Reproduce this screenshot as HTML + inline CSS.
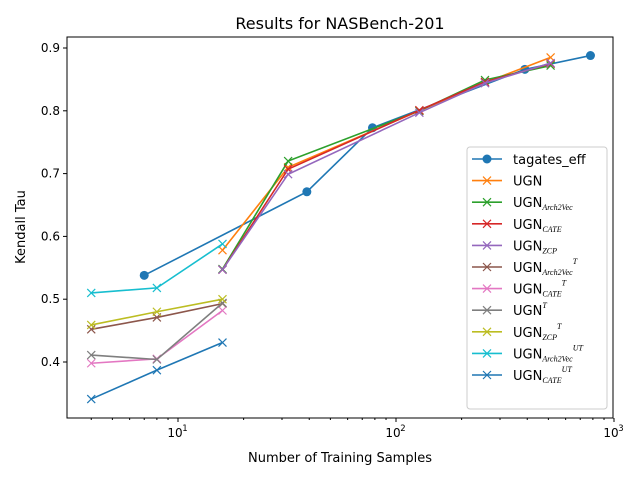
<!DOCTYPE html>
<html><head><meta charset="utf-8"><style>
body{margin:0;background:#fff;}
svg text{font-family:"DejaVu Sans","Liberation Sans",sans-serif;fill:#000;}
</style></head><body>
<svg id="chart" width="640" height="480" xmlns="http://www.w3.org/2000/svg">
<rect width="640" height="480" fill="#fff"/>
<text x="340" y="29" font-size="16" text-anchor="middle">Results for NASBench-201</text>
<g id="plot"></g>
<g id="axes"></g>
<rect x="67" y="37" width="546" height="381" fill="none" stroke="#000" stroke-width="1"/>
<text x="340" y="462" font-size="13" text-anchor="middle">Number of Training Samples</text>
<text transform="translate(25,227) rotate(-90)" font-size="13" text-anchor="middle">Kendall Tau</text>
<g id="legend"></g>
</svg>
<script>
const seriesNames=["tagates_eff","UGN","UGN_Arch2Vec","UGN_CATE","UGN_ZCP","UGN_Arch2Vec^T","UGN_CATE^T","UGN^T","UGN_ZCP^T","UGN_Arch2Vec^UT","UGN_CATE^UT"];
const xTagates=[7,39,78,390,780];
const yTagates=[0.538,0.671,0.773,0.866,0.888];
const xFull=[16,32,128,256,512];
const yUGN=[0.578,0.710,0.800,0.845,0.885];
const yArch2Vec=[0.548,0.720,0.800,0.849,0.872];
const yCATE=[0.547,0.707,0.801,0.846,0.875];
const yZCP=[0.547,0.699,0.797,0.844,0.876];
const xSmall=[4,8,16];
const yArch2VecT=[0.452,0.471,0.493];
const yCATET=[0.398,0.405,0.482];
const yT=[0.411,0.404,0.494];
const yZCPT=[0.459,0.480,0.500];
const yArch2VecUT=[0.510,0.518,0.588];
const yCATEUT=[0.341,0.387,0.431];
const yTicks=[0.4,0.5,0.6,0.7,0.8,0.9];
const xMajor=[10,100,1000];
const xMajorLabels=["10","10","10"];
const colors=["#1f77b4","#ff7f0e","#2ca02c","#d62728","#9467bd","#8c564b","#e377c2","#7f7f7f","#bcbd22","#17becf","#1f77b4"];

const NS="http://www.w3.org/2000/svg";
const L=67,R=613,T=37,B=418;
const xMinLog=Math.log10(3.1),xMaxLog=Math.log10(1000*1.005);
function X(v){return L+(Math.log10(v)-Math.log10(10))*218+111;}
function Y(v){return 362-(v-0.4)*628;}
function mk(tag,attrs,parent){const e=document.createElementNS(NS,tag);for(const k in attrs)e.setAttribute(k,attrs[k]);parent.appendChild(e);return e;}
const plot=document.getElementById('plot'),axes=document.getElementById('axes'),leg=document.getElementById('legend');

yTicks.forEach(t=>{const y=Y(t);
 const l=mk('line',{x1:L-4,x2:L,y1:y,y2:y,stroke:'#000'},axes);
 
 
 const tx=mk('text',{x:L-7,y:y+4,'font-size':'12','text-anchor':'end'},axes);tx.textContent=t.toFixed(1);
 
 
});
xMajor.forEach((v,i)=>{const x=X(v);
 const l=mk('line',{x1:x,x2:x,y1:B,y2:B+4,stroke:'#000'},axes);
 
 
 const tx=mk('text',{x:x-3,y:B+19,'font-size':'12','text-anchor':'middle'},axes);tx.textContent=xMajorLabels[i];
 
 
 const sp=mk('text',{x:x+7,y:B+13,'font-size':'8.5','text-anchor':'middle'},axes);sp.textContent=String(i+1);
 
 
});
[1,10,100].forEach(d=>{for(let m=2;m<=9;m++){const v=d*m;const x=X(v);if(x<L||x>R)continue;
 const l=mk('line',{x1:x,x2:x,y1:B,y2:B+2,stroke:'#000'},axes);
 
 }});

const allSeries=[[xTagates,yTagates],[xFull,yUGN],[xFull,yArch2Vec],[xFull,yCATE],[xFull,yZCP],[xSmall,yArch2VecT],[xSmall,yCATET],[xSmall,yT],[xSmall,yZCPT],[xSmall,yArch2VecUT],[xSmall,yCATEUT]];
function cross(x,y,c,parent,s){const g=mk('path',{d:`M${x-s},${y-s}L${x+s},${y+s}M${x-s},${y+s}L${x+s},${y-s}`,stroke:c,'stroke-width':1.2,fill:'none'},parent);return g;}
allSeries.forEach((s,i)=>{const [xs,ys]=s;const c=colors[i];
 const pts=xs.map((v,j)=>X(v)+','+Y(ys[j])).join(' ');
 const pl=mk('polyline',{points:pts,fill:'none',stroke:c,'stroke-width':1.6},plot);
 
 
 xs.forEach((v,j)=>{let m;
  if(i===0){m=mk('circle',{cx:X(v),cy:Y(ys[j]),r:4.5,fill:c},plot);}
  else{m=cross(X(v),Y(ys[j]),c,plot,4);}
  
  
 });
});

// legend
const box=mk('rect',{x:467,y:147,width:140,height:262,rx:3,fill:'#fff','fill-opacity':0.8,stroke:'#ccc'},leg);


const subs=["","","Arch2Vec","CATE","ZCP","Arch2Vec","CATE","","ZCP","Arch2Vec","CATE"];
const sups=["","","","","","T","T","T","T","UT","UT"];
seriesNames.forEach((n,i)=>{const y=159+i*21.6;const c=colors[i];
 const g=mk('g',{},leg);
 
 
 mk('line',{x1:472,x2:502,y1:y,y2:y,stroke:c,'stroke-width':1.6},g);
 if(i===0)mk('circle',{cx:487,cy:y,r:4.5,fill:c},g);else cross(487,y,c,g,4);
 const t=mk('text',{x:513,y:y+5,'font-size':'13'},g);
 if(i===0){t.textContent='tagates_eff';}
 else{t.textContent='UGN';
  if(subs[i]){const s=mk('tspan',{'font-size':'8','font-style':'italic','font-family':'Liberation Serif, serif',dy:'3'},t);s.textContent=subs[i];}
  if(sups[i]){const s=mk('tspan',{'font-size':'8','font-style':'italic','font-family':'Liberation Serif, serif',dy:subs[i]?'-11':'-7'},t);s.textContent=sups[i];}
 }
});
</script>
</body></html>
